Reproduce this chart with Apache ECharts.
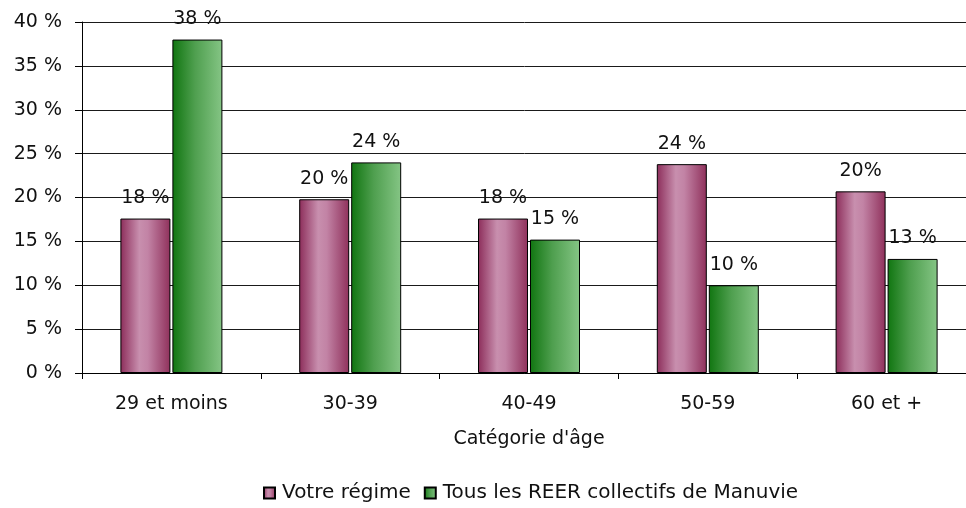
<!DOCTYPE html>
<html>
<head>
<meta charset="utf-8">
<script src="https://cdn.jsdelivr.net/npm/echarts@6/dist/echarts.min.js"></script>
<style>
  html, body { margin: 0; padding: 0; background: #fff; }
  #chart { width: 966px; height: 508px; }
</style>
</head>
<body>
<div id="chart"></div>
<script>
const categories = ['29 et moins', '30-39', '40-49', '50-59', '60 et +'];
const regimeValues = [17.6, 19.8, 17.6, 23.8, 20.7];
const manuvieValues = [38, 24, 15.2, 10, 13];
const regimeLabels = ['18 %', '20 %', '18 %', '24 %', '20%'];
const manuvieLabels = ['38 %', '24 %', '15 %', '10 %', '13 %'];
const seriesNames = ['Votre régime', 'Tous les REER collectifs de Manuvie'];

const FONT = 'DejaVu Sans';

const chart = echarts.init(document.getElementById('chart'));

const pinkFill = new echarts.graphic.LinearGradient(0, 0, 1, 0, [
  { offset: 0, color: '#8c2d5a' },
  { offset: 0.38, color: '#c88fae' },
  { offset: 0.55, color: '#c283a5' },
  { offset: 1, color: '#8f305b' }
]);
const greenFill = new echarts.graphic.LinearGradient(0, 0, 1, 0, [
  { offset: 0, color: '#107510' },
  { offset: 0.45, color: '#4f9f4f' },
  { offset: 1, color: '#85c585' }
]);

let options = {
  animation: false,
  textStyle: { fontFamily: FONT },
  grid: {
    left: 82,
    top: 22,
    right: -10,
    bottom: 135,
    outerBoundsMode: 'none'
  },
  legend: {
    top: 478,
    left: 258,
    itemWidth: 11,
    itemHeight: 11,
    itemGap: 13,
    icon: 'rect',
    textStyle: { fontFamily: FONT, fontSize: 20, color: '#111', padding: [0, 0, 0, 2] },
    data: seriesNames
  },
  xAxis: {
    type: 'category',
    data: categories,
    name: "Catégorie d'âge",
    nameLocation: 'middle',
    nameGap: 57,
    nameTextStyle: { fontFamily: FONT, fontSize: 19, color: '#111' },
    axisLine: { lineStyle: { color: '#000', width: 1 } },
    axisTick: { show: true, length: 6, interval: 0, lineStyle: { color: '#000' } },
    axisLabel: { fontFamily: FONT, fontSize: 19, color: '#111', margin: 22, interval: 0 }
  },
  yAxis: {
    type: 'value',
    min: 0,
    max: 40,
    interval: 5,
    axisLine: { show: true, lineStyle: { color: '#000', width: 1 } },
    axisTick: { show: true, length: 7, lineStyle: { color: '#000' } },
    axisLabel: {
      fontFamily: FONT,
      fontSize: 19,
      color: '#111',
      margin: 20,
      formatter: '{value} %'
    },
    splitLine: { show: true, lineStyle: { color: '#1a1a1a', width: 1 } }
  },
  series: [
    {
      name: seriesNames[0],
      type: 'bar',
      data: regimeValues,
      barWidth: 50,
      barGap: '4%',
      itemStyle: { color: pinkFill, borderColor: '#000', borderWidth: 1 },
      label: {
        show: true,
        position: 'top',
        distance: 11,
        fontFamily: FONT,
        fontSize: 19,
        color: '#111',
        formatter: (p) => regimeLabels[p.dataIndex]
      }
    },
    {
      name: seriesNames[1],
      type: 'bar',
      data: manuvieValues,
      barWidth: 50,
      barGap: '4%',
      itemStyle: { color: greenFill, borderColor: '#000', borderWidth: 1 },
      label: {
        show: true,
        position: 'top',
        distance: 11,
        fontFamily: FONT,
        fontSize: 19,
        color: '#111',
        formatter: (p) => manuvieLabels[p.dataIndex]
      }
    }
  ]
};

chart.setOption(options);
window.onresize = () => {
  chart.resize();
};
</script>
</body>
</html>
